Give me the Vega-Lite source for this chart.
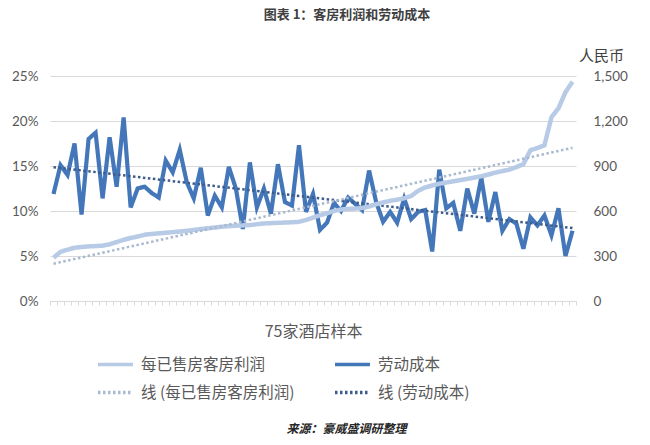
{
  "$schema": "https://vega.github.io/schema/vega-lite/v6.json",
  "width": 526,
  "height": 225,
  "autosize": {"type": "none"},
  "padding": {"left": 50, "top": 76, "right": 74, "bottom": 144},
  "background": "white",
  "title": {
    "text": "图表 1：客房利润和劳动成本",
    "anchor": "middle",
    "frame": "group",
    "dx": 34,
    "offset": 13,
    "baseline": "bottom",
    "fontSize": 13,
    "fontWeight": "bold",
    "color": "#404040",
    "font": "Noto Sans CJK SC"
  },
  "config": {"view": {"stroke": null}},
  "data": {
    "values": [
      {"hotel": 1, "profit": 288, "labor": 0.119},
      {"hotel": 2, "profit": 328, "labor": 0.151},
      {"hotel": 3, "profit": 342, "labor": 0.140},
      {"hotel": 4, "profit": 355, "labor": 0.175},
      {"hotel": 5, "profit": 360, "labor": 0.096},
      {"hotel": 6, "profit": 364, "labor": 0.180},
      {"hotel": 7, "profit": 366, "labor": 0.187},
      {"hotel": 8, "profit": 369, "labor": 0.114},
      {"hotel": 9, "profit": 378, "labor": 0.182},
      {"hotel": 10, "profit": 393, "labor": 0.127},
      {"hotel": 11, "profit": 408, "labor": 0.204},
      {"hotel": 12, "profit": 420, "labor": 0.104},
      {"hotel": 13, "profit": 430, "labor": 0.125},
      {"hotel": 14, "profit": 442, "labor": 0.127},
      {"hotel": 15, "profit": 447, "labor": 0.120},
      {"hotel": 16, "profit": 451, "labor": 0.115},
      {"hotel": 17, "profit": 455, "labor": 0.156},
      {"hotel": 18, "profit": 459, "labor": 0.143},
      {"hotel": 19, "profit": 463, "labor": 0.168},
      {"hotel": 20, "profit": 468, "labor": 0.132},
      {"hotel": 21, "profit": 474, "labor": 0.114},
      {"hotel": 22, "profit": 480, "labor": 0.148},
      {"hotel": 23, "profit": 485, "labor": 0.095},
      {"hotel": 24, "profit": 490, "labor": 0.117},
      {"hotel": 25, "profit": 495, "labor": 0.104},
      {"hotel": 26, "profit": 499, "labor": 0.149},
      {"hotel": 27, "profit": 502, "labor": 0.125},
      {"hotel": 28, "profit": 504, "labor": 0.080},
      {"hotel": 29, "profit": 506, "labor": 0.154},
      {"hotel": 30, "profit": 512, "labor": 0.104},
      {"hotel": 31, "profit": 517, "labor": 0.125},
      {"hotel": 32, "profit": 519, "labor": 0.097},
      {"hotel": 33, "profit": 521, "labor": 0.152},
      {"hotel": 34, "profit": 523, "labor": 0.110},
      {"hotel": 35, "profit": 525, "labor": 0.106},
      {"hotel": 36, "profit": 528, "labor": 0.173},
      {"hotel": 37, "profit": 540, "labor": 0.099},
      {"hotel": 38, "profit": 556, "labor": 0.119},
      {"hotel": 39, "profit": 572, "labor": 0.079},
      {"hotel": 40, "profit": 585, "labor": 0.087},
      {"hotel": 41, "profit": 600, "labor": 0.109},
      {"hotel": 42, "profit": 610, "labor": 0.100},
      {"hotel": 43, "profit": 614, "labor": 0.115},
      {"hotel": 44, "profit": 616, "labor": 0.108},
      {"hotel": 45, "profit": 620, "labor": 0.101},
      {"hotel": 46, "profit": 630, "labor": 0.145},
      {"hotel": 47, "profit": 645, "labor": 0.110},
      {"hotel": 48, "profit": 657, "labor": 0.088},
      {"hotel": 49, "profit": 668, "labor": 0.099},
      {"hotel": 50, "profit": 676, "labor": 0.087},
      {"hotel": 51, "profit": 685, "labor": 0.114},
      {"hotel": 52, "profit": 700, "labor": 0.091},
      {"hotel": 53, "profit": 735, "labor": 0.099},
      {"hotel": 54, "profit": 757, "labor": 0.101},
      {"hotel": 55, "profit": 770, "labor": 0.055},
      {"hotel": 56, "profit": 782, "labor": 0.146},
      {"hotel": 57, "profit": 790, "labor": 0.103},
      {"hotel": 58, "profit": 798, "labor": 0.109},
      {"hotel": 59, "profit": 806, "labor": 0.078},
      {"hotel": 60, "profit": 814, "labor": 0.125},
      {"hotel": 61, "profit": 823, "labor": 0.097},
      {"hotel": 62, "profit": 832, "labor": 0.137},
      {"hotel": 63, "profit": 843, "labor": 0.088},
      {"hotel": 64, "profit": 856, "labor": 0.121},
      {"hotel": 65, "profit": 866, "labor": 0.078},
      {"hotel": 66, "profit": 876, "labor": 0.091},
      {"hotel": 67, "profit": 893, "labor": 0.086},
      {"hotel": 68, "profit": 912, "labor": 0.058},
      {"hotel": 69, "profit": 1005, "labor": 0.093},
      {"hotel": 70, "profit": 1020, "labor": 0.084},
      {"hotel": 71, "profit": 1038, "labor": 0.095},
      {"hotel": 72, "profit": 1225, "labor": 0.073},
      {"hotel": 73, "profit": 1285, "labor": 0.103},
      {"hotel": 74, "profit": 1392, "labor": 0.050},
      {"hotel": 75, "profit": 1462, "labor": 0.078}
    ]
  },
  "encoding": {
    "x": {
      "field": "hotel",
      "type": "ordinal",
      "bandPosition": 0.5,
      "scale": {"type": "band", "paddingInner": 0, "paddingOuter": 0},
      "axis": {
        "labels": false,
        "domainColor": "#d9d9d9",
        "tickColor": "#d9d9d9",
        "tickSize": 4,
        "tickBand": "extent",
        "grid": false,
        "title": "75家酒店样本",
        "titleX": 263,
        "titleY": 30,
        "titleAlign": "center",
        "titleBaseline": "middle",
        "titleFontSize": 16,
        "titleFontWeight": "normal",
        "titleColor": "#595959",
        "titleFont": "Noto Sans CJK SC"
      }
    }
  },
  "layer": [
    {
      "encoding": {
        "y": {
          "field": "labor",
          "type": "quantitative",
          "scale": {"domain": [0, 0.25], "nice": false},
          "axis": {
            "orient": "left",
            "values": [0, 0.05, 0.1, 0.15, 0.2, 0.25],
            "format": ".0%",
            "grid": true,
            "gridColor": "#d9d9d9",
            "domain": false,
            "ticks": false,
            "labelPadding": 12,
            "labelFontSize": 13.5,
            "labelColor": "#595959",
            "labelFont": "Lato",
            "title": "来源：豪威盛调研整理",
            "titleAngle": 0,
            "titleX": 296,
            "titleY": 352,
            "titleAlign": "center",
            "titleBaseline": "middle",
            "titleFontStyle": "italic",
            "titleFontWeight": "bold",
            "titleFontSize": 12,
            "titleColor": "#262626",
            "titleFont": "Noto Sans CJK SC"
          }
        }
      },
      "layer": [
        {
          "mark": {"type": "line", "strokeWidth": 4.2, "strokeJoin": "miter"},
          "encoding": {
            "color": {
              "datum": "劳动成本",
              "type": "nominal",
              "scale": {
                "domain": ["每已售房客房利润", "劳动成本", "线 (每已售房客房利润)", "线 (劳动成本)"],
                "range": ["#b7cae6", "#4477b9", "#a9b9cf", "#3d5c8b"]
              },
              "legend": {
                "orient": "none",
                "legendX": 46,
                "legendY": 269,
                "columns": 2,
                "direction": "horizontal",
                "title": null,
                "symbolType": "stroke",
                "symbolSize": 1225,
                "symbolStrokeWidth": 3.5,
                "labelFontSize": 15.5,
                "labelColor": "#595959",
                "labelFont": "Noto Sans CJK SC",
                "labelOffset": 6,
                "columnPadding": 33,
                "rowPadding": 0
              }
            },
            "strokeDash": {
              "datum": "劳动成本",
              "type": "nominal",
              "scale": {
                "domain": ["每已售房客房利润", "劳动成本", "线 (每已售房客房利润)", "线 (劳动成本)"],
                "range": [[1, 0], [1, 0], [2.5, 2.5], [2.5, 2.5]]
              }
            }
          }
        },
        {
          "transform": [{"regression": "labor", "on": "hotel"}],
          "mark": {"type": "line", "strokeWidth": 2.5},
          "encoding": {
            "color": {
              "datum": "线 (劳动成本)",
              "type": "nominal",
              "scale": {
                "domain": ["每已售房客房利润", "劳动成本", "线 (每已售房客房利润)", "线 (劳动成本)"],
                "range": ["#b7cae6", "#4477b9", "#a9b9cf", "#3d5c8b"]
              }
            },
            "strokeDash": {
              "datum": "线 (劳动成本)",
              "type": "nominal",
              "scale": {
                "domain": ["每已售房客房利润", "劳动成本", "线 (每已售房客房利润)", "线 (劳动成本)"],
                "range": [[1, 0], [1, 0], [2.5, 2.5], [2.5, 2.5]]
              }
            }
          }
        }
      ]
    },
    {
      "encoding": {
        "y": {
          "field": "profit",
          "type": "quantitative",
          "scale": {"domain": [0, 1500], "nice": false},
          "axis": {
            "orient": "right",
            "values": [0, 300, 600, 900, 1200, 1500],
            "format": ",.0f",
            "grid": false,
            "domain": false,
            "ticks": false,
            "labelPadding": 17,
            "labelFontSize": 13.5,
            "labelColor": "#595959",
            "labelFont": "Lato",
            "title": "人民币",
            "titleAngle": 0,
            "titleX": 25,
            "titleY": -21,
            "titleAlign": "center",
            "titleBaseline": "middle",
            "titleFontSize": 15,
            "titleFontWeight": "normal",
            "titleColor": "#404040",
            "titleFont": "Noto Sans CJK SC"
          }
        }
      },
      "layer": [
        {
          "mark": {"type": "line", "strokeWidth": 4.5},
          "encoding": {
            "color": {
              "datum": "每已售房客房利润",
              "type": "nominal",
              "scale": {
                "domain": ["每已售房客房利润", "劳动成本", "线 (每已售房客房利润)", "线 (劳动成本)"],
                "range": ["#b7cae6", "#4477b9", "#a9b9cf", "#3d5c8b"]
              }
            },
            "strokeDash": {
              "datum": "每已售房客房利润",
              "type": "nominal",
              "scale": {
                "domain": ["每已售房客房利润", "劳动成本", "线 (每已售房客房利润)", "线 (劳动成本)"],
                "range": [[1, 0], [1, 0], [2.5, 2.5], [2.5, 2.5]]
              }
            }
          }
        },
        {
          "transform": [{"regression": "profit", "on": "hotel"}],
          "mark": {"type": "line", "strokeWidth": 2.5},
          "encoding": {
            "color": {
              "datum": "线 (每已售房客房利润)",
              "type": "nominal",
              "scale": {
                "domain": ["每已售房客房利润", "劳动成本", "线 (每已售房客房利润)", "线 (劳动成本)"],
                "range": ["#b7cae6", "#4477b9", "#a9b9cf", "#3d5c8b"]
              }
            },
            "strokeDash": {
              "datum": "线 (每已售房客房利润)",
              "type": "nominal",
              "scale": {
                "domain": ["每已售房客房利润", "劳动成本", "线 (每已售房客房利润)", "线 (劳动成本)"],
                "range": [[1, 0], [1, 0], [2.5, 2.5], [2.5, 2.5]]
              }
            }
          }
        }
      ],
      "resolve": {"scale": {"y": "shared"}}
    }
  ],
  "resolve": {"scale": {"y": "independent"}}
}
